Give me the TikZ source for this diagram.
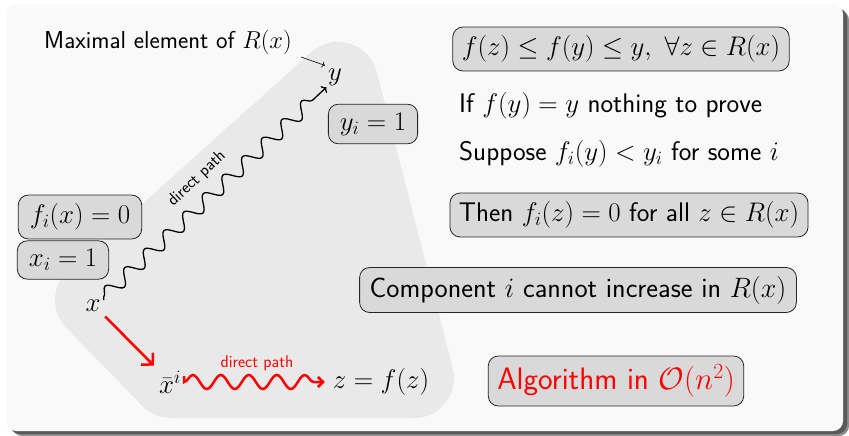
\RequirePackage{fix-cm}
\documentclass[tikz,border=0pt]{standalone}
\usetikzlibrary{decorations.pathmorphing,arrows.meta}
\definecolor{panelfill}{HTML}{F9F9F9}
\definecolor{regionfill}{HTML}{E9E9E9}
\definecolor{boxfill}{HTML}{D9D9D9}
\tikzset{
  basefont/.style={font=\fontsize{26.9}{31}\selectfont\sffamily},
  box/.style={draw=black!85, fill=boxfill, rounded corners=10pt, line width=0.8pt, inner xsep=9pt, inner ysep=8.5pt},
  widebox/.style={box, inner xsep=11.5pt},
  plain/.style={inner sep=3pt},
  wave/.style={decorate, decoration={snake, amplitude=7pt, segment length=#1, post length=5pt}},
  smallfont/.style={font=\fontsize{17}{20}\selectfont\sffamily}
}
\begin{document}
\begin{tikzpicture}[x=1pt,y=-1pt,basefont]
\useasboundingbox (0,0) rectangle (849,436);
% panel with shadow
\fill[black!45, rounded corners=10pt] (12,10) rectangle (849,436);
\fill[black!65, rounded corners=10pt] (10,8) rectangle (847,434);
\fill[panelfill, rounded corners=10pt] (6,4) rectangle (843,431);
% region R(x)
\filldraw[regionfill, line width=80pt, line join=round] (338,82) -- (95,300) -- (171,378) -- (414,378) -- cycle;
% left part
\node[font=\fontsize{24.5}{28}\selectfont\sffamily] (max) at (168,42) {Maximal element of $R(x)$};
\node[plain] (y) at (335,77) {$y$};
\coordinate (mtail) at (301,57);
\draw[line width=0.6pt, -{To[length=3pt,width=6pt]}] (mtail) -- (y.north west);
\node[widebox] (yi) at (373,124) {$y_i=1$};
\node[widebox] (fx) at (80,217) {$f_i(x)=0$};
\node[widebox] (xi) at (63,260) {$x_i=1$};
\node[plain] (x) at (93,306) {$x$};
\node[plain] (xbar) at (170,382) {$\bar x^i$};
\node[plain] (z) at (381,382) {$z=f(z)$};
\draw[line width=1.3pt, -{To[length=4pt,width=9pt]}, wave=27pt, shorten <=-3pt, shorten >=-2pt] (x.north east) -- node[sloped, above=14pt, pos=0.49, smallfont, inner sep=0pt] {direct path} (y.south west);
\draw[red, line width=2.5pt, -{Straight Barb[length=8pt,width=17pt]}, shorten <=2pt, shorten >=3pt] (x.south east) -- (xbar.north west);
\draw[red, line width=2.5pt, -{Straight Barb[length=5pt,width=10pt]}, wave=28pt, shorten <=6pt, shorten >=5pt] (xbar.east) -- node[above=10pt, smallfont, text=red, inner sep=0pt] {direct path} (z.west);
% right part
\node[box] (ineq) at (621,49) {$f(z)\le f(y)\le y,\ \forall z\in R(x)$};
\node[plain, anchor=west] (if) at (456,106) {If $f(y)=y$ nothing to prove};
\node[plain, anchor=west] (sup) at (456,154) {Suppose $f_i(y)<y_i$ for some $i$};
\node[box] (then) at (629,215) {Then $f_i(z)=0$ for all $z\in R(x)$};
\node[box, inner xsep=10pt, font=\fontsize{28}{32}\selectfont\sffamily] (comp) at (578,290) {Component $i$ cannot increase in $R(x)$};
\node[box, text=red, font=\fontsize{31}{36}\selectfont\sffamily] (alg) at (616,381) {Algorithm in $\mathcal{O}(n^2)$};
\end{tikzpicture}
\end{document}
